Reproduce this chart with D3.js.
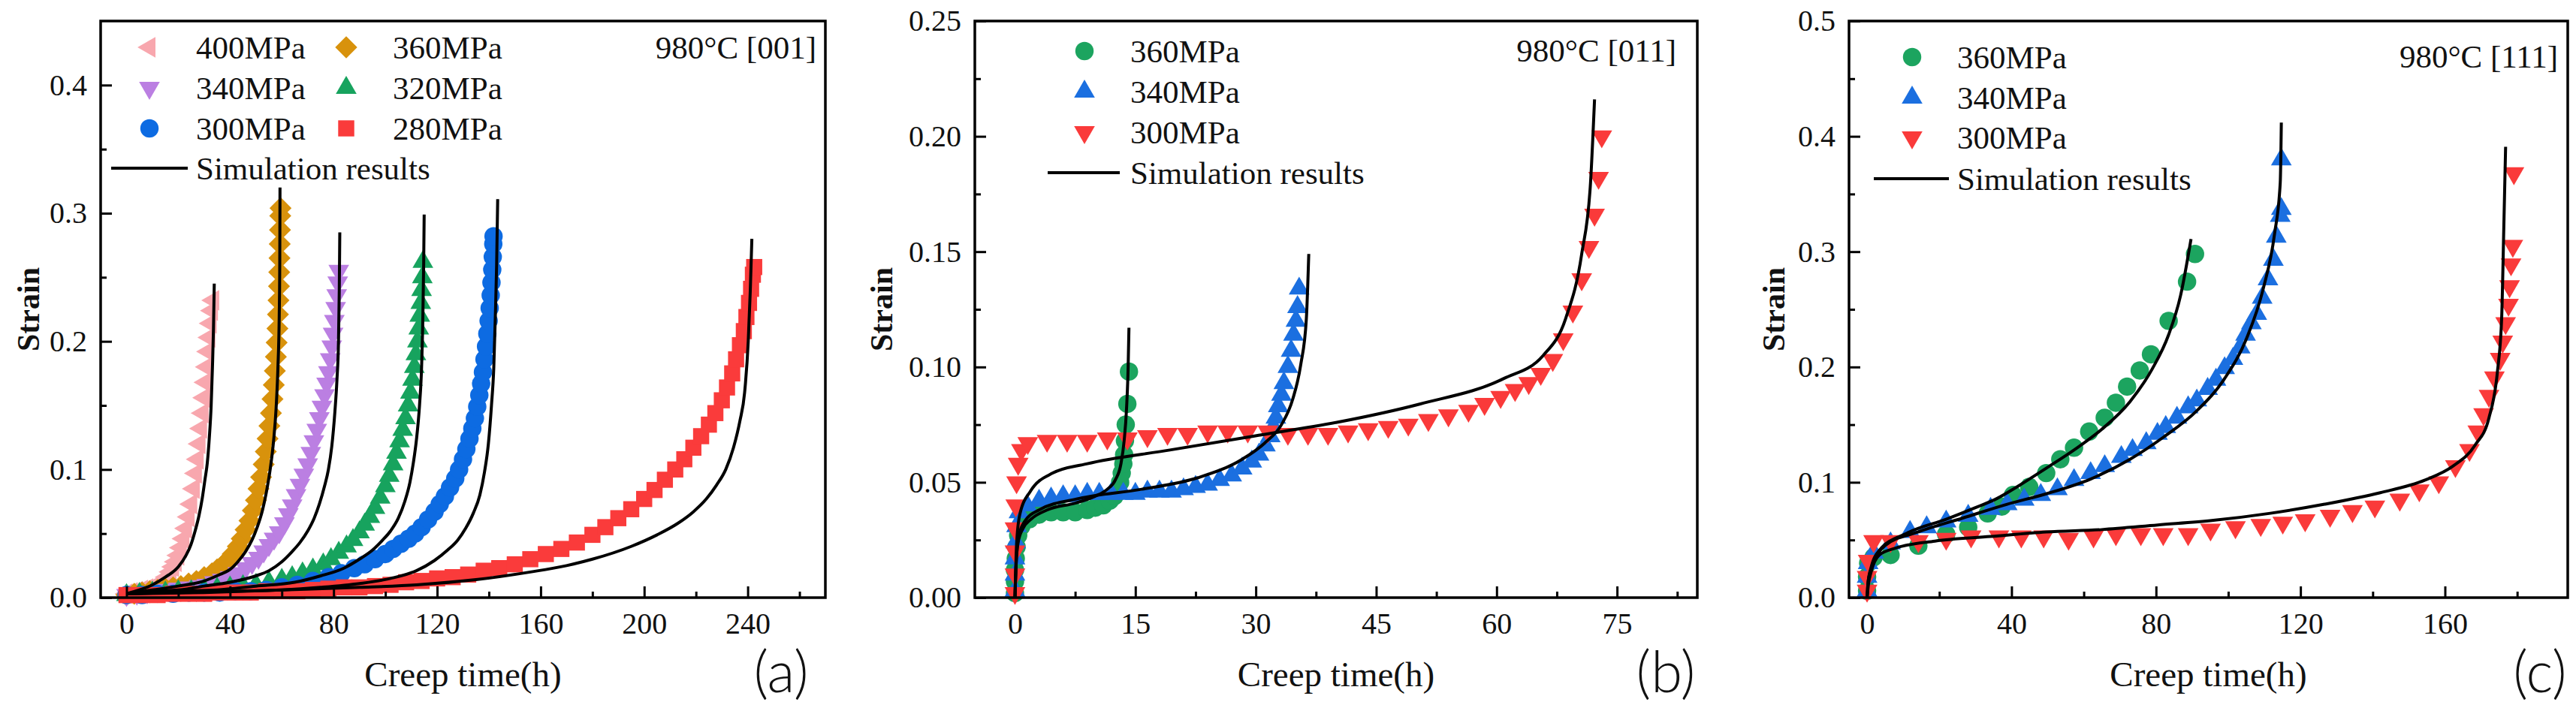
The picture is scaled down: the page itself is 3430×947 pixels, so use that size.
<!DOCTYPE html>
<html>
<head>
<meta charset="utf-8">
<script src="https://cdn.jsdelivr.net/npm/d3@7"></script>
<style>
  body { margin: 0; background: #fff; }
  svg { display: block; }
</style>
</head>
<body>
<svg id="chart" width="3430" height="947"></svg>
<script>
/* global d3 */

// ---------- data : [creep time (h), strain] ----------

// (a) 980°C [001]
var a400 = [[0,0.003],[2,0.004],[4,0.005],[6,0.006],[8,0.007],[10,0.008],[12,0.01],[14,0.013],[15.5,0.016],[17,0.02],[18,0.024],[19,0.028],[20,0.033],[21,0.039],[22,0.046],[23,0.054],[24,0.063],[25,0.073],[26,0.085],[26.8,0.097],[27.5,0.108],[28.2,0.12],[28.8,0.132],[29.4,0.144],[30,0.156],[30.5,0.168],[31,0.18],[31.5,0.192],[32,0.203],[32.5,0.214],[33,0.224],[33.5,0.232]];
var a360 = [[0,0.002],[3,0.003],[6,0.004],[9,0.005],[12,0.006],[15,0.007],[18,0.008],[21,0.009],[24,0.011],[27,0.013],[30,0.016],[33,0.019],[35,0.022],[37,0.025],[39,0.029],[41,0.034],[43,0.04],[44.5,0.046],[46,0.053],[47.5,0.06],[48.8,0.068],[50,0.076],[51,0.085],[52,0.094],[53,0.104],[53.8,0.114],[54.5,0.124],[55.2,0.134],[55.8,0.144],[56.4,0.155],[56.9,0.166],[57.3,0.177],[57.7,0.188],[58,0.199],[58.3,0.21],[58.5,0.221],[58.7,0.232],[58.9,0.243],[59,0.254],[59.1,0.265],[59.2,0.276],[59.3,0.287],[59.4,0.298],[59.5,0.304]];
var a340 = [[0,0.002],[4,0.003],[8,0.004],[12,0.005],[16,0.006],[20,0.007],[24,0.008],[28,0.009],[31,0.01],[34,0.012],[37,0.014],[40,0.016],[43,0.019],[46,0.023],[48.5,0.027],[51,0.031],[53,0.036],[55,0.041],[57,0.046],[59,0.051],[61,0.058],[62.5,0.065],[64,0.072],[65.5,0.08],[67,0.088],[68.5,0.096],[70,0.104],[71.2,0.113],[72.4,0.122],[73.5,0.131],[74.5,0.14],[75.5,0.149],[76.5,0.158],[77.3,0.167],[78,0.176],[78.7,0.186],[79.3,0.196],[79.8,0.206],[80.3,0.216],[80.8,0.226],[81.2,0.236],[81.6,0.246],[82,0.255]];
var a320 = [[0,0.002],[5,0.003],[10,0.004],[15,0.004],[20,0.005],[25,0.005],[30,0.006],[35,0.007],[40,0.008],[45,0.009],[50,0.01],[55,0.012],[60,0.014],[64,0.016],[68,0.019],[72,0.022],[76,0.026],[79,0.03],[82,0.035],[85,0.04],[87.5,0.045],[90,0.051],[92,0.057],[94,0.063],[96,0.07],[98,0.078],[100,0.087],[101.5,0.095],[103,0.104],[104.3,0.113],[105.5,0.122],[106.7,0.131],[107.8,0.14],[108.8,0.15],[109.7,0.16],[110.5,0.17],[111.2,0.18],[111.8,0.19],[112.4,0.2],[112.9,0.21],[113.3,0.22],[113.7,0.23],[114,0.24],[114.3,0.25],[114.5,0.262]];
var a300 = [[0,0.002],[6,0.002],[12,0.003],[18,0.003],[24,0.004],[30,0.004],[36,0.004],[42,0.005],[48,0.005],[54,0.006],[60,0.008],[66,0.01],[72,0.013],[78,0.016],[83,0.019],[88,0.023],[92,0.026],[96,0.03],[100,0.034],[103,0.038],[106,0.042],[109,0.046],[111.5,0.05],[114,0.055],[116.5,0.061],[119,0.067],[121,0.073],[123,0.079],[125,0.086],[127,0.093],[128.5,0.1],[130,0.108],[131.3,0.116],[132.5,0.124],[133.6,0.132],[134.6,0.14],[135.5,0.149],[136.3,0.158],[137,0.167],[137.7,0.176],[138.3,0.186],[138.9,0.196],[139.4,0.206],[139.9,0.216],[140.3,0.226],[140.7,0.236],[141,0.246],[141.3,0.256],[141.5,0.266],[141.7,0.276],[141.8,0.282]];
var a280 = [[0,0.002],[6,0.002],[12,0.002],[18,0.003],[24,0.003],[30,0.003],[36,0.004],[42,0.004],[48,0.004],[54,0.005],[60,0.005],[66,0.005],[72,0.006],[78,0.007],[84,0.008],[90,0.008],[96,0.009],[102,0.01],[108,0.012],[114,0.013],[120,0.015],[126,0.016],[132,0.018],[138,0.021],[144,0.023],[150,0.026],[156,0.03],[162,0.034],[168,0.038],[174,0.043],[180,0.049],[185,0.055],[190,0.062],[195,0.069],[200,0.077],[204,0.084],[208,0.092],[212,0.1],[215.5,0.108],[219,0.117],[222,0.126],[225,0.135],[227.5,0.144],[230,0.154],[232,0.164],[234,0.175],[235.5,0.186],[237,0.197],[238.5,0.208],[239.5,0.219],[240.5,0.23],[241.3,0.241],[242,0.252],[242.5,0.258]];

var simA400 = [[0,0.003],[5,0.006],[10,0.01],[15,0.016],[20,0.024],[23,0.033],[25,0.042],[26.5,0.052],[28,0.064],[29.3,0.078],[30.3,0.092],[31.2,0.105],[32,0.125],[32.7,0.15],[33.2,0.18],[33.6,0.21],[33.9,0.245]];
var simA360 = [[0,0.003],[10,0.006],[20,0.009],[30,0.013],[36,0.018],[40,0.022],[43,0.028],[46,0.036],[48.5,0.045],[50.5,0.055],[52.5,0.068],[54,0.082],[55.5,0.1],[56.8,0.122],[57.8,0.148],[58.5,0.18],[59,0.22],[59.2,0.26],[59.3,0.32]];
var simA340 = [[0,0.003],[10,0.005],[20,0.006],[30,0.009],[40,0.012],[50,0.017],[55,0.021],[60,0.028],[64,0.036],[67,0.043],[70,0.052],[72.5,0.062],[74.5,0.073],[76.5,0.087],[78,0.1],[79.3,0.118],[80.5,0.145],[81.3,0.17],[81.9,0.2],[82.2,0.24],[82.4,0.285]];
var simA320 = [[0,0.003],[10,0.004],[20,0.005],[35,0.006],[50,0.009],[65,0.012],[75,0.017],[84,0.023],[90,0.03],[95,0.037],[99,0.045],[102,0.052],[105,0.062],[107.5,0.075],[109.5,0.09],[110.8,0.105],[112,0.123],[113.2,0.15],[114,0.18],[114.5,0.22],[114.8,0.26],[115,0.299]];
var simA300 = [[0,0.003],[20,0.004],[40,0.005],[60,0.006],[75,0.008],[90,0.011],[102,0.015],[112,0.021],[119,0.029],[124,0.037],[128,0.045],[131,0.054],[134,0.066],[136.5,0.08],[138.3,0.098],[139.8,0.12],[141,0.15],[141.9,0.18],[142.5,0.22],[143,0.26],[143.4,0.311]];
var simA280 = [[0,0.003],[30,0.004],[60,0.006],[90,0.008],[112,0.01],[135,0.014],[156,0.02],[170,0.025],[180,0.03],[195,0.04],[205,0.049],[213,0.058],[219,0.067],[224,0.077],[228,0.088],[231.5,0.1],[234.5,0.117],[237,0.138],[238.8,0.16],[240.2,0.2],[241,0.24],[241.6,0.28]];

// (b) 980°C [011]
var b360 = [[0,0.002],[0,0.007],[0,0.012],[0.1,0.017],[0.2,0.022],[0.4,0.027],[0.8,0.031],[1.8,0.034],[3,0.036],[4.5,0.037],[6,0.037],[7.5,0.037],[9,0.038],[10,0.039],[11,0.04],[11.8,0.042],[12.4,0.044],[12.8,0.047],[13.1,0.05],[13.3,0.054],[13.5,0.058],[13.6,0.062],[13.7,0.068],[13.8,0.075],[14,0.084],[14.2,0.098]];
var b340 = [[0,0.003],[0,0.01],[0,0.017],[0.1,0.024],[0.2,0.031],[0.5,0.037],[1.5,0.04],[3,0.042],[4.5,0.043],[6,0.044],[7.5,0.044],[9,0.045],[10.5,0.045],[12,0.045],[13.5,0.045],[15,0.045],[16.5,0.046],[18,0.046],[19.5,0.046],[21,0.047],[22.5,0.048],[24,0.049],[25.5,0.051],[27,0.053],[28.3,0.056],[29.5,0.059],[30.4,0.062],[31.2,0.066],[31.8,0.07],[32.2,0.074],[32.5,0.078],[32.8,0.083],[33.2,0.088],[33.5,0.093],[34,0.1],[34.4,0.107],[34.7,0.114],[35,0.12],[35.2,0.126],[35.4,0.134]];
var b300 = [[0,0.002],[0,0.01],[0,0.02],[0,0.03],[0.1,0.04],[0.2,0.05],[0.4,0.058],[0.8,0.064],[1.6,0.067],[4,0.068],[6.5,0.068],[9,0.068],[11.5,0.069],[14,0.069],[16.5,0.07],[19,0.071],[21.5,0.071],[24,0.072],[26.5,0.072],[29,0.072],[31.5,0.072],[34,0.071],[36.5,0.071],[39,0.071],[41.5,0.072],[44,0.073],[46.5,0.074],[49,0.075],[51.5,0.077],[54,0.079],[56.5,0.081],[58.5,0.084],[60.5,0.087],[62.3,0.09],[64,0.093],[65.5,0.097],[67,0.103],[68.3,0.112],[69.5,0.124],[70.6,0.138],[71.5,0.152],[72.2,0.166],[72.7,0.182],[73.1,0.2]];

var simB360 = [[0,0],[0.15,0.015],[0.4,0.024],[1,0.03],[2,0.034],[4,0.038],[7.5,0.041],[10,0.044],[11.5,0.047],[12.5,0.051],[13.2,0.058],[13.6,0.068],[13.9,0.082],[14.1,0.1],[14.2,0.117]];
var simB340 = [[0,0],[0.2,0.018],[0.5,0.027],[1.2,0.033],[3,0.038],[8,0.043],[15.8,0.047],[22.8,0.052],[28.3,0.06],[31.1,0.067],[33.2,0.075],[34.6,0.086],[35.6,0.101],[36.3,0.121],[36.6,0.149]];
var simB300 = [[0,0],[0.2,0.023],[0.6,0.036],[1.9,0.046],[4.7,0.054],[8.9,0.058],[19.3,0.064],[29.7,0.07],[40.1,0.076],[50.5,0.084],[60.9,0.095],[65.8,0.105],[68.6,0.121],[70.6,0.149],[71.7,0.18],[72.2,0.216]];

// (c) 980°C [111]
var c360 = [[0,0.006],[0,0.018],[0.3,0.03],[1.8,0.035],[6.5,0.037],[14.2,0.045],[21.9,0.055],[28,0.061],[33.4,0.073],[37.3,0.079],[40.4,0.089],[44.9,0.096],[49.6,0.108],[53.5,0.12],[57.3,0.13],[61.5,0.144],[65.8,0.156],[68.9,0.169],[72,0.183],[75.5,0.197],[78.6,0.211],[83.5,0.24],[88.6,0.274],[90.8,0.298]];
var c340 = [[0,0.006],[0,0.018],[0.3,0.03],[1.8,0.039],[6.5,0.047],[11.9,0.057],[16.5,0.061],[21.9,0.066],[28,0.071],[34.2,0.077],[38.8,0.081],[43.5,0.085],[48.1,0.089],[52.7,0.094],[57.3,0.102],[61.9,0.108],[65.8,0.114],[70.4,0.122],[73.5,0.128],[77.3,0.134],[80.4,0.142],[82.7,0.148],[85.8,0.156],[88.9,0.165],[91.3,0.171],[94.3,0.181],[96.6,0.189],[99,0.199],[101.3,0.207],[103.3,0.217],[104.8,0.228],[106.4,0.238],[107.9,0.246],[109.4,0.26],[111,0.276],[112.5,0.293],[113.3,0.313],[114.4,0.331],[114.7,0.337],[114.7,0.38]];
var c300 = [[0,0.006],[0,0.018],[0.3,0.032],[1.8,0.049],[6.5,0.049],[14.2,0.049],[21.9,0.051],[28.8,0.053],[36.5,0.053],[42.7,0.053],[48.9,0.053],[55.8,0.051],[62.7,0.053],[68.9,0.055],[75.8,0.055],[82,0.055],[88.9,0.055],[95.1,0.059],[102,0.061],[109,0.063],[115.1,0.065],[121.3,0.067],[128.2,0.071],[134.4,0.075],[140.6,0.079],[147.5,0.085],[152.9,0.093],[158.3,0.1],[162.9,0.114],[166.8,0.128],[169.1,0.144],[170.7,0.159],[172.2,0.175],[173.7,0.191],[175.3,0.207],[176,0.222],[176.8,0.238],[177.6,0.254],[177.9,0.27],[178.3,0.289],[178.8,0.305],[179.1,0.368]];

var simC360 = [[0,0],[0.3,0.014],[1.1,0.026],[3.4,0.041],[11.1,0.056],[21.9,0.068],[30,0.078],[36,0.086],[42,0.097],[50,0.113],[57.3,0.128],[65,0.146],[72.8,0.17],[78.9,0.198],[83.5,0.228],[86.8,0.262],[89.7,0.311]];
var simC340 = [[0,0],[0.3,0.014],[1.8,0.03],[4.9,0.045],[14.2,0.057],[26.5,0.069],[38.8,0.081],[49.6,0.09],[62,0.103],[72.8,0.12],[82,0.139],[91.3,0.162],[99,0.19],[105.1,0.225],[109.7,0.268],[112.8,0.315],[114.4,0.36],[114.7,0.412]];
var simC300 = [[0,0],[0.4,0.012],[1.1,0.022],[3.4,0.037],[8,0.043],[18.8,0.049],[34.2,0.053],[49.6,0.057],[65,0.059],[80.5,0.063],[95.9,0.067],[111.3,0.073],[126.7,0.081],[142.1,0.091],[154.5,0.102],[162.2,0.114],[168.3,0.132],[172.2,0.156],[174.5,0.195],[175.7,0.242],[176.3,0.321],[176.8,0.391]];

// ---------- ticks and labels ----------
var xTicksA = [0, 40, 80, 120, 160, 200, 240];
var xMinorA = [20, 60, 100, 140, 180, 220, 260];
var yTicksA = [0, 0.1, 0.2, 0.3, 0.4];
var yMinorA = [0.05, 0.15, 0.25, 0.35];

var xTicksB = [0, 15, 30, 45, 60, 75];
var xMinorB = [7.5, 22.5, 37.5, 52.5, 67.5, 82.5];
var yTicksB = [0, 0.05, 0.10, 0.15, 0.20, 0.25];
var yMinorB = [0.025, 0.075, 0.125, 0.175, 0.225];

var xTicksC = [0, 40, 80, 120, 160];
var xMinorC = [20, 60, 100, 140, 180];
var yTicksC = [0, 0.1, 0.2, 0.3, 0.4, 0.5];
var yMinorC = [0.05, 0.15, 0.25, 0.35, 0.45];

var labelsA = ["400MPa", "360MPa", "340MPa", "320MPa", "300MPa", "280MPa"];
var labelsBC = ["360MPa", "340MPa", "300MPa"];
var simLabel = "Simulation results";
var xTitle = "Creep time(h)";
var yTitle = "Strain";

var serif = "'Liberation Serif', 'Times New Roman', serif";
var svg = d3.select( "#chart" );

// marker shapes
var TRI_LEFT = { type: d3.symbolTriangle, rot: -90, size: 330 },
  TRI_DOWN = { type: d3.symbolTriangle, rot: 180, size: 330 },
  TRI_UP = { type: d3.symbolTriangle, rot: 0, size: 330 },
  DIAMOND = { type: d3.symbolSquare, rot: 45, size: 430 },
  CIRCLE = { type: d3.symbolCircle, rot: 0, size: 470 },
  SQUARE = { type: d3.symbolSquare, rot: 0, size: 460 };

var panels = [
  {
    box: { left: 134, right: 1099, top: 28, bottom: 796 },
    xDomain: [ -10, 270 ], yDomain: [ 0, 0.45 ],
    xTicks: xTicksA, xMinor: xMinorA, yTicks: yTicksA, yMinor: yMinorA,
    yFormat: d3.format( ".1f" ),
    series: [
      { data: a400, label: labelsA[0], color: "#f8a7ae", shape: TRI_LEFT },
      { data: a360, label: labelsA[1], color: "#d8920c", shape: DIAMOND },
      { data: a340, label: labelsA[2], color: "#bb7fe2", shape: TRI_DOWN },
      { data: a320, label: labelsA[3], color: "#17a35e", shape: TRI_UP },
      { data: a300, label: labelsA[4], color: "#0d6be2", shape: CIRCLE },
      { data: a280, label: labelsA[5], color: "#fa3b3b", shape: SQUARE }
    ],
    sims: [ simA400, simA360, simA340, simA320, simA300, simA280 ],
    legend: { sx: 199, tx: 261, col2: 262, rows: [ 63, 117, 171 ], simY: 224, lx: [ 148, 250 ], cols: 2 },
    note: "980°C [001]", noteX: 1087, noteY: 78,
    yTitleX: 52, letter: "(a)", letterX: 1040
  },
  {
    box: { left: 1298, right: 2260, top: 28, bottom: 796 },
    xDomain: [ -5, 85 ], yDomain: [ 0, 0.25 ],
    xTicks: xTicksB, xMinor: xMinorB, yTicks: yTicksB, yMinor: yMinorB,
    yFormat: d3.format( ".2f" ),
    series: [
      { data: b360, label: labelsBC[0], color: "#1ca45f", shape: CIRCLE },
      { data: b340, label: labelsBC[1], color: "#1b6fe0", shape: TRI_UP },
      { data: b300, label: labelsBC[2], color: "#fa3a3a", shape: TRI_DOWN }
    ],
    sims: [ simB360, simB340, simB300 ],
    legend: { sx: 1444, tx: 1505, rows: [ 68, 122, 176 ], simY: 230, lx: [ 1395, 1491 ], cols: 1 },
    note: "980°C [011]", noteX: 2232, noteY: 82,
    yTitleX: 1188, letter: "(b)", letterX: 2218
  },
  {
    box: { left: 2462, right: 3419, top: 28, bottom: 796 },
    xDomain: [ -5, 194 ], yDomain: [ 0, 0.5 ],
    xTicks: xTicksC, xMinor: xMinorC, yTicks: yTicksC, yMinor: yMinorC,
    yFormat: d3.format( ".1f" ),
    series: [
      { data: c360, label: labelsBC[0], color: "#1ca45f", shape: CIRCLE },
      { data: c340, label: labelsBC[1], color: "#1b6fe0", shape: TRI_UP },
      { data: c300, label: labelsBC[2], color: "#fa3a3a", shape: TRI_DOWN }
    ],
    sims: [ simC360, simC340, simC300 ],
    legend: { sx: 2546, tx: 2606, rows: [ 76, 130, 183 ], simY: 238, lx: [ 2495, 2595 ], cols: 1 },
    note: "980°C [111]", noteX: 3406, noteY: 90,
    yTitleX: 2376, letter: "(c)", letterX: 3382
  }
];

function marker( g, shape, color, cx, cy ) {
  g.append( "path" )
    .attr( "d", d3.symbol().type( shape.type ).size( shape.size )() )
    .attr( "transform", "translate(" + cx + "," + cy + ") rotate(" + shape.rot + ")" )
    .attr( "fill", color );
}

function drawPanel( p ) {
  var b = p.box;
  var x = d3.scaleLinear().domain( p.xDomain ).range( [ b.left, b.right ] );
  var y = d3.scaleLinear().domain( p.yDomain ).range( [ b.bottom, b.top ] );
  var g = svg.append( "g" );

  // experimental points
  p.series.forEach( function( s ) {
    g.append( "g" ).selectAll( "path" )
      .data( s.data )
      .enter()
      .append( "path" )
        .attr( "d", d3.symbol().type( s.shape.type ).size( s.shape.size ) )
        .attr( "transform", function( d ) {
          return "translate(" + x( d[ 0 ] ) + "," + y( d[ 1 ] ) + ") rotate(" + s.shape.rot + ")";
        } )
        .attr( "fill", s.color );
  } );

  // simulation curves
  var line = d3.line()
    .x( function( d ) { return x( d[ 0 ] ); } )
    .y( function( d ) { return y( d[ 1 ] ); } )
    .curve( d3.curveMonotoneX );

  g.selectAll( ".sim" )
    .data( p.sims )
    .enter()
    .append( "path" )
      .attr( "class", "sim" )
      .attr( "d", line )
      .attr( "fill", "none" )
      .attr( "stroke", "#000" )
      .attr( "stroke-width", 4 );

  // axes (ticks point inward)
  var xAxis = g.append( "g" )
    .attr( "transform", "translate(0," + b.bottom + ")" )
    .call( d3.axisBottom( x ).tickValues( p.xTicks ).tickSize( -15 ).tickSizeOuter( 0 ).tickPadding( 20 ) );
  g.append( "g" )
    .attr( "transform", "translate(0," + b.bottom + ")" )
    .call( d3.axisBottom( x ).tickValues( p.xMinor ).tickSize( -8 ).tickSizeOuter( 0 ).tickFormat( "" ) );
  var yAxis = g.append( "g" )
    .attr( "transform", "translate(" + b.left + ",0)" )
    .call( d3.axisLeft( y ).tickValues( p.yTicks ).tickSize( -15 ).tickSizeOuter( 0 ).tickPadding( 18 ).tickFormat( p.yFormat ) );
  g.append( "g" )
    .attr( "transform", "translate(" + b.left + ",0)" )
    .call( d3.axisLeft( y ).tickValues( p.yMinor ).tickSize( -8 ).tickSizeOuter( 0 ).tickFormat( "" ) );

  g.selectAll( ".domain" ).remove();
  g.selectAll( ".tick line" ).attr( "stroke", "#000" ).attr( "stroke-width", 3 );
  xAxis.selectAll( "text" ).attr( "font-family", serif ).attr( "font-size", 40 ).attr( "fill", "#111" );
  yAxis.selectAll( "text" ).attr( "font-family", serif ).attr( "font-size", 40 ).attr( "fill", "#111" );

  // frame
  g.append( "rect" )
    .attr( "x", b.left ).attr( "y", b.top )
    .attr( "width", b.right - b.left ).attr( "height", b.bottom - b.top )
    .attr( "fill", "none" ).attr( "stroke", "#000" ).attr( "stroke-width", 3.5 );

  // legend
  var L = p.legend;
  p.series.forEach( function( s, i ) {
    var col = L.cols === 2 ? i % 2 : 0,
      row = L.cols === 2 ? Math.floor( i / 2 ) : i,
      off = col * ( L.col2 || 0 );
    marker( g, s.shape, s.color, L.sx + off, L.rows[ row ] );
    g.append( "text" )
      .attr( "x", L.tx + off ).attr( "y", L.rows[ row ] + 15 )
      .attr( "font-family", serif ).attr( "font-size", 43 ).attr( "fill", "#111" )
      .text( s.label );
  } );
  g.append( "line" )
    .attr( "x1", L.lx[ 0 ] ).attr( "x2", L.lx[ 1 ] )
    .attr( "y1", L.simY ).attr( "y2", L.simY )
    .attr( "stroke", "#000" ).attr( "stroke-width", 4 );
  g.append( "text" )
    .attr( "x", L.tx ).attr( "y", L.simY + 15 )
    .attr( "font-family", serif ).attr( "font-size", 43 ).attr( "fill", "#111" )
    .text( simLabel );

  g.append( "text" )
    .attr( "x", p.noteX ).attr( "y", p.noteY )
    .attr( "text-anchor", "end" )
    .attr( "font-family", serif ).attr( "font-size", 43 ).attr( "fill", "#111" )
    .text( p.note );

  // axis titles
  g.append( "text" )
    .attr( "x", ( b.left + b.right ) / 2 ).attr( "y", 914 )
    .attr( "text-anchor", "middle" )
    .attr( "font-family", serif ).attr( "font-size", 47 ).attr( "fill", "#111" )
    .text( xTitle );
  g.append( "text" )
    .attr( "transform", "translate(" + p.yTitleX + "," + ( b.top + b.bottom ) / 2 + ") rotate(-90)" )
    .attr( "text-anchor", "middle" )
    .attr( "font-family", serif ).attr( "font-size", 42 ).attr( "font-weight", "bold" ).attr( "fill", "#111" )
    .text( yTitle );

  g.append( "text" )
    .attr( "x", p.letterX ).attr( "y", 922 )
    .attr( "text-anchor", "middle" )
    .attr( "font-family", "Lato, 'DejaVu Sans', sans-serif" ).attr( "font-weight", 300 )
    .attr( "font-size", 76 ).attr( "fill", "#111" )
    .text( p.letter );
}

panels.forEach( drawPanel );
</script>
</body>
</html>
